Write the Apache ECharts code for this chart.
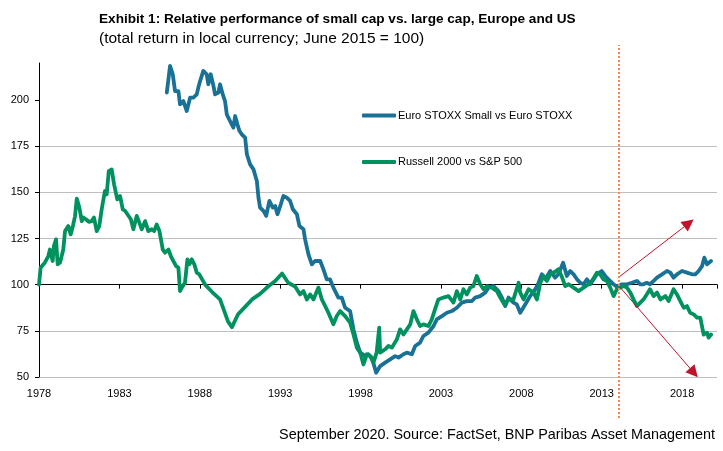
<!DOCTYPE html>
<html>
<head>
<meta charset="utf-8">
<script src="https://cdn.jsdelivr.net/npm/echarts@6/dist/echarts.min.js"></script>
<style>
  html, body { margin: 0; padding: 0; background: #fff; }
  #main { width: 723px; height: 451px; }
</style>
</head>
<body>
<div id="main"></div>
<script>
var baseYear = 1978
var xTickLabels = ['1978', '1983', '1988', '1993', '1998', '2003', '2008', '2013', '2018']
var yTicks = [50, 75, 100, 125, 150, 175, 200]

// Russell 2000 vs S&P 500
var usYears = [1978.0, 1978.1, 1978.37, 1978.58, 1978.68, 1978.76, 1978.85, 1978.93, 1979.06, 1979.16, 1979.31, 1979.51, 1979.62, 1979.82, 1979.97,
  1980.13, 1980.24, 1980.35, 1980.51, 1980.66, 1980.76, 1980.92, 1981.1, 1981.28, 1981.42, 1981.59, 1981.75, 1981.9, 1982.1, 1982.21, 1982.34,
  1982.52, 1982.67, 1982.77, 1982.87, 1983.04, 1983.21, 1983.35, 1983.5, 1983.71, 1983.87, 1984.08, 1984.24, 1984.39, 1984.6, 1984.8, 1985.01,
  1985.16, 1985.32, 1985.49, 1985.7, 1985.84, 1986.05, 1986.2, 1986.36, 1986.53, 1986.67, 1986.77, 1986.94, 1987.08, 1987.23, 1987.35, 1987.5,
  1987.66, 1987.81, 1987.97, 1988.33, 1988.77, 1989.26, 1989.76, 1990.0, 1990.38, 1990.82, 1991.25, 1991.75, 1992.25, 1992.69, 1993.12, 1993.5,
  1993.93, 1994.24, 1994.45, 1994.66, 1994.86, 1995.07, 1995.38, 1995.59, 1995.8, 1996.0, 1996.31, 1996.52, 1996.73, 1996.84, 1997.04, 1997.35,
  1997.56, 1997.77, 1997.98, 1998.18, 1998.39, 1998.6, 1998.8, 1999.0, 1999.16, 1999.22, 1999.53, 1999.74, 1999.95, 2000.26, 2000.46, 2000.67,
  2000.88, 2001.09, 2001.29, 2001.5, 2001.7, 2001.91, 2002.22, 2002.43, 2002.63, 2002.84, 2003.15, 2003.47, 2003.78, 2003.99, 2004.2, 2004.4,
  2004.61, 2004.82, 2005.02, 2005.23, 2005.44, 2005.65, 2005.86, 2006.17, 2006.48, 2006.69, 2006.94, 2007.2, 2007.51, 2007.83, 2007.93, 2008.14,
  2008.45, 2008.76, 2008.97, 2009.18, 2009.38, 2009.59, 2009.8, 2010.1, 2010.3, 2010.5, 2010.73, 2010.94, 2011.25, 2011.56, 2011.87, 2012.18,
  2012.39, 2012.7, 2012.9, 2013.1, 2013.32, 2013.53, 2013.74, 2013.94, 2014.15, 2014.36, 2014.57, 2014.78, 2014.98, 2015.19, 2015.4, 2015.6,
  2015.8, 2016.0, 2016.23, 2016.44, 2016.65, 2016.96, 2017.16, 2017.47, 2017.68, 2017.89, 2018.1, 2018.3, 2018.5, 2018.72, 2018.93, 2019.13,
  2019.34, 2019.55, 2019.65, 2019.8]
var usValues = [100, 109.2, 112, 115.5, 119, 116, 112.8, 121, 124.5, 111, 112, 119, 129, 131.7, 127.2,
  132.6, 137, 146.6, 141.7, 134.4, 136.3, 135.4, 134, 134.4, 136.3, 129, 131.7, 140.8, 150.7, 148.9, 161.5,
  162.4, 154.3, 155, 146.2, 148, 140.8, 140, 138.1, 135.4, 130, 137.2, 133.6, 130, 134.4, 129, 130,
  129, 132.6, 129, 119, 117.3, 119, 115.5, 112.8, 110, 109.2, 96.5, 99.2, 101, 113.7, 111, 113.7,
  111, 106.5, 105.6, 100, 96, 92, 80, 77, 84, 88, 92, 95, 99, 102, 106, 101,
  99, 94.7, 96.5, 92, 94.7, 92, 98.4, 92, 88.4, 84.8, 78.5, 83, 85.7, 86.6, 83, 79.4,
  73, 65.9, 63.2, 56.8, 62.3, 61.3, 57.8, 63.2, 76.7, 63.2, 65, 66.8, 65.9, 70.4, 75.8, 73,
  75.8, 78.5, 85.7, 81.2, 77.6, 78.5, 77.6, 81.2, 86.6, 92, 93, 93.8, 90.3, 96.5, 92, 97.5,
  94.7, 98.4, 99.2, 104.7, 100.2, 97.5, 99.2, 98.4, 96.5, 93, 89.3, 92, 92, 101, 95.7, 92,
  97.5, 95.7, 92, 101, 104.7, 102, 105.6, 107, 108.3, 104.7, 99.2, 100.2, 98.4, 96.5, 98.4, 100.2,
  102, 106.5, 105.6, 102.9, 102, 98.4, 93.8, 97.5, 98.4, 99.2, 98.4, 95.7, 92, 88.4, 90.3, 92,
  94.7, 97.5, 93.8, 95.7, 92, 93.8, 91.1, 97.5, 94.7, 91.1, 87.5, 88.4, 84.8, 83.9, 82.1, 82.1,
  73, 74, 71.3, 73]

// Euro STOXX Small vs Euro STOXX
var euYears = [1985.95, 1986.15, 1986.32, 1986.46, 1986.67, 1986.77, 1986.98, 1987.19, 1987.4, 1987.6, 1987.81, 1987.91, 1988.02, 1988.22, 1988.43,
  1988.53, 1988.68, 1988.85, 1988.95, 1989.16, 1989.26, 1989.43, 1989.57, 1989.68, 1989.88, 1990.09, 1990.2, 1990.34, 1990.47, 1990.61, 1990.82,
  1990.93, 1991.13, 1991.34, 1991.55, 1991.65, 1991.75, 1991.96, 1992.13, 1992.33, 1992.54, 1992.69, 1992.83, 1993.04, 1993.2, 1993.41, 1993.62,
  1993.79, 1994.04, 1994.2, 1994.45, 1994.55, 1994.76, 1994.97, 1995.17, 1995.49, 1995.69, 1995.9, 1996.1, 1996.31, 1996.62, 1996.83, 1997.04,
  1997.35, 1997.56, 1997.77, 1997.98, 1998.29, 1998.49, 1998.7, 1998.97, 1999.22, 1999.53, 1999.84, 2000.15, 2000.36, 2000.67, 2000.88, 2001.19,
  2001.4, 2001.7, 2001.91, 2002.22, 2002.54, 2002.74, 2003.06, 2003.37, 2003.68, 2003.99, 2004.3, 2004.61, 2004.93, 2005.13, 2005.44, 2005.75,
  2005.96, 2006.27, 2006.58, 2006.79, 2007.0, 2007.2, 2007.51, 2007.72, 2007.93, 2008.24, 2008.55, 2008.87, 2009.07, 2009.28, 2009.49, 2009.8,
  2010.1, 2010.3, 2010.6, 2010.83, 2011.04, 2011.25, 2011.46, 2011.66, 2011.87, 2012.08, 2012.29, 2012.5, 2012.7, 2013.0, 2013.22, 2013.42,
  2013.74, 2013.94, 2014.26, 2014.57, 2014.88, 2015.19, 2015.4, 2015.6, 2015.8, 2016.0, 2016.23, 2016.44, 2016.75, 2017.06, 2017.27, 2017.47,
  2017.68, 2017.99, 2018.3, 2018.61, 2018.82, 2019.03, 2019.24, 2019.38, 2019.55, 2019.8]
var euValues = [204, 218.4, 213.9, 204.8, 204.8, 197.6, 199.4, 194, 201.3, 201.3, 203, 206.7, 210.2, 215.7, 213.9,
  208.5, 213.9, 207.6, 203, 204, 208.5, 203, 199.4, 192.2, 188.6, 185, 191.3, 186.8, 183.2, 181.4, 179.6,
  170.6, 165.1, 162.4, 156.1, 147.1, 141.7, 139.9, 137.2, 145.3, 141.7, 142.6, 138.1, 143.5, 148, 147.1, 145.3,
  140.8, 138.1, 131.7, 130, 124.5, 116.4, 111, 112.8, 112.8, 108.3, 102.9, 102.9, 98.4, 93, 93, 87.5,
  85.7, 75.8, 68.6, 63.2, 61.3, 62.3, 60.5, 52.3, 55.9, 57.8, 59.5, 61.3, 60.5, 62.3, 63.2, 62.3,
  66.8, 68.6, 72.2, 74, 77.6, 81.2, 83, 84.8, 85.7, 87.5, 90.3, 91.1, 91.1, 93, 93.8, 95.7,
  98.4, 99.2, 96.5, 93, 88.4, 93, 90.3, 89.3, 84.8, 89.3, 93.8, 97.5, 101, 105.6, 102.9, 107.4,
  103.8, 105.6, 111.9, 104.7, 107.4, 105.6, 102.9, 101, 100.2, 102.9, 100.2, 102.9, 105.6, 107.4, 104.7, 102.9,
  100.2, 98.9, 100.2, 100.2, 101, 102, 100.2, 100.2, 101, 100.2, 102, 103.8, 105.6, 107.4, 106.5, 103.8,
  105.6, 107.4, 106.5, 105.6, 105.6, 107.4, 110, 114.6, 111, 112.8]

var splitYear = 2014.05
var arrowUp = [[2014.0, 103.6], [2018.42, 133.3]]
var arrowDown = [[2014.0, 100], [2018.73, 52.3]]

var narrow = '"Liberation Sans Narrow", "Arial Narrow", "Liberation Sans", Arial, sans-serif'

function toPoints (years, values) {
  return years.map(function (y, i) { return [y - baseYear, values[i]] })
}

var chart = echarts.init(document.getElementById('main'), null, { renderer: 'canvas' })

var xMax = 42.17

var option = {
  animation: false,
  backgroundColor: '#fff',
  textStyle: { fontFamily: narrow },
  title: [
    { text: 'Exhibit 1: Relative performance of small cap vs. large cap, Europe and US', left: 94, top: 7, padding: 5,
      textStyle: { fontFamily: narrow, fontSize: 13.6, fontWeight: 'bold', color: '#000' } },
    { text: '(total return in local currency; June 2015 = 100)', left: 94, top: 26, padding: 5,
      textStyle: { fontFamily: narrow, fontSize: 15.5, fontWeight: 'normal', color: '#000' } },
    { text: 'September 2020. Source: FactSet, BNP Paribas Asset Management', right: 3, top: 423, padding: 5,
      textStyle: { fontFamily: narrow, fontSize: 14.4, fontWeight: 'normal', color: '#000' } }
  ],
  legend: [
    { data: ['Euro STOXX Small vs Euro STOXX'], left: 362, top: 110, padding: 0, orient: 'vertical',
      icon: 'roundRect', itemWidth: 34, itemHeight: 4,
      textStyle: { fontFamily: narrow, fontSize: 11, color: '#000', padding: [0, 0, 0, -3] } },
    { data: ['Russell 2000 vs S&P 500'], left: 362, top: 156.5, padding: 0, orient: 'vertical',
      icon: 'roundRect', itemWidth: 34, itemHeight: 4,
      textStyle: { fontFamily: narrow, fontSize: 11, color: '#000', padding: [0, 0, 0, -3] } }
  ],
  grid: [
    { left: 39, right: 6, top: 63, bottom: 74 },
    { left: 39, right: 6, top: 45, bottom: 33 }
  ],
  xAxis: [
    {
      gridIndex: 0, type: 'value', min: 0, max: xMax, interval: 5, position: 'bottom',
      axisLine: { show: false, onZero: false },
      axisTick: { show: false },
      splitLine: { show: false },
      axisLabel: { margin: 11, fontSize: 11, color: '#000', fontFamily: narrow, showMaxLabel: false,
        formatter: function (v) { return xTickLabels[Math.round(v / 5)] || '' } }
    },
    {
      gridIndex: 0, type: 'value', min: 0, max: xMax, interval: 5, position: 'bottom',
      axisLine: { show: true, onZero: true, onZeroAxisIndex: 1, lineStyle: { color: '#000', width: 1 } },
      axisTick: { show: true, length: 4, lineStyle: { color: '#000' } },
      axisLabel: { show: false },
      splitLine: { show: false }
    },
    { gridIndex: 1, type: 'value', min: 0, max: xMax, show: false }
  ],
  yAxis: [
    {
      gridIndex: 0, type: 'value', min: 50, max: 220, interval: 25,
      axisLine: { show: true, lineStyle: { color: '#000', width: 1 } },
      axisTick: { show: true, length: 4, customValues: yTicks, lineStyle: { color: '#000' } },
      axisLabel: { margin: 10, fontSize: 11, color: '#000', fontFamily: narrow, customValues: yTicks },
      splitLine: { show: true, showMaxLine: false, lineStyle: { color: '#bfbfbf', width: 1 } }
    },
    // shifted copy so the x axis can sit on the 100 line
    { gridIndex: 0, type: 'value', min: -50, max: 120, show: false },
    { gridIndex: 1, type: 'value', min: 0, max: 1, show: false }
  ],
  series: [
    {
      name: 'Euro STOXX Small vs Euro STOXX', type: 'line', xAxisIndex: 0, yAxisIndex: 0,
      data: toPoints(euYears, euValues), showSymbol: false, symbol: 'none',
      itemStyle: { color: '#1a7196' },
      lineStyle: { color: '#1a7196', width: 3.8, cap: 'round', join: 'round' },
      z: 3
    },
    {
      name: 'Russell 2000 vs S&P 500', type: 'line', xAxisIndex: 0, yAxisIndex: 0,
      data: toPoints(usYears, usValues), showSymbol: false, symbol: 'none',
      itemStyle: { color: '#00925e' },
      lineStyle: { color: '#00925e', width: 3.8, cap: 'round', join: 'round' },
      z: 4,
      markLine: {
        silent: true, symbol: ['none', 'triangle'], symbolSize: 12,
        lineStyle: { color: '#c0142a', width: 1, type: 'solid' },
        label: { show: false },
        data: [
          [{ coord: [arrowUp[0][0] - baseYear, arrowUp[0][1]] }, { coord: [arrowUp[1][0] - baseYear, arrowUp[1][1]] }],
          [{ coord: [arrowDown[0][0] - baseYear, arrowDown[0][1]] }, { coord: [arrowDown[1][0] - baseYear, arrowDown[1][1]] }]
        ]
      }
    },
    {
      name: 'split', type: 'line', xAxisIndex: 2, yAxisIndex: 2,
      data: [[splitYear - baseYear, 0]], showSymbol: false, symbol: 'none',
      lineStyle: { opacity: 0 },
      markLine: {
        silent: true, symbol: 'none',
        lineStyle: { color: '#f08a52', width: 2, type: [2, 2] },
        label: { show: false },
        data: [{ xAxis: splitYear - baseYear }]
      },
      z: 5
    }
  ]
}

chart.setOption(option)
</script>
</body>
</html>
